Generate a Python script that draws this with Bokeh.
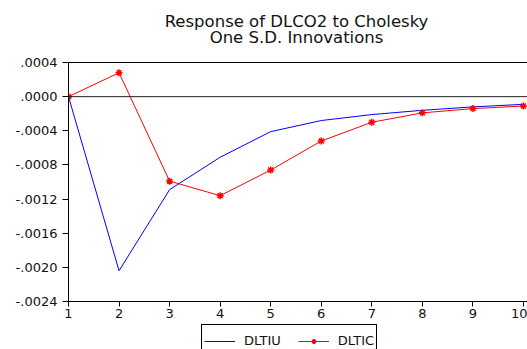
from bokeh.plotting import figure
from bokeh.layouts import column
from bokeh.models import (Range1d, FixedTicker, LinearAxis, Span, Legend,
                          LegendItem, ColumnDataSource)
from bokeh.core.properties import value
from bokeh.embed import file_html
from bokeh.resources import INLINE

periods = [1, 2, 3, 4, 5, 6, 7, 8, 9, 10]
dltiu = [0.0, -0.00204, -0.00109, -0.00071, -0.00041, -0.00028, -0.00021, -0.00016, -0.00012, -0.00009]
dltic = [0.0, 0.00028, -0.00099, -0.00116, -0.00086, -0.00052, -0.00030, -0.00019, -0.00014, -0.00011]
y_ticks = [0.0004, 0.0, -0.0004, -0.0008, -0.0012, -0.0016, -0.0020, -0.0024]
y_labels = [".0004", ".0000", "-.0004", "-.0008", "-.0012", "-.0016", "-.0020", "-.0024"]
title_lines = ["Response of DLCO2 to Cholesky", "One S.D. Innovations"]
series_names = ["DLTIU", "DLTIC"]

FONT = "DejaVu Sans"
W = 527
LEFT = 68

# ---------------- title strip ----------------
tf = figure(width=W, height=50, output_backend="svg", toolbar_location=None,
            x_range=Range1d(LEFT, W), y_range=Range1d(0, 50),
            min_border_left=LEFT, min_border_right=0, min_border_top=0,
            min_border_bottom=0, x_axis_location=None, y_axis_location=None)
tf.outline_line_color = None
tf.grid.visible = False
tf.text(x=[296, 296], y=[29.5, 13.3], text=title_lines,
        text_font=value(FONT), text_font_size="16.5px", text_color="#111111",
        text_align="center", text_baseline="middle")

# ---------------- main chart ----------------
p = figure(width=W, height=274, output_backend="svg", toolbar_location=None,
           x_range=Range1d(1, 10.08), y_range=Range1d(-0.0024, 0.0004),
           min_border_left=LEFT, min_border_right=0, min_border_top=12,
           min_border_bottom=23, x_axis_location=None, y_axis_location=None)
p.outline_line_color = None
p.grid.visible = False

xaxis = LinearAxis(ticker=FixedTicker(ticks=periods))
xaxis.major_label_text_font = FONT
xaxis.major_label_text_font_size = "13px"
xaxis.major_label_text_color = "#111111"
xaxis.major_tick_out = 5
xaxis.major_tick_in = 0
xaxis.minor_tick_out = 0
xaxis.minor_tick_in = 0
xaxis.major_label_standoff = 2
xaxis.axis_line_color = "black"
xaxis.major_tick_line_color = "black"
p.add_layout(xaxis, "below")

yaxis = LinearAxis(ticker=FixedTicker(ticks=y_ticks),
                   major_label_overrides={t: l for t, l in zip(y_ticks, y_labels)})
yaxis.major_label_text_font = FONT
yaxis.major_label_text_font_size = "13px"
yaxis.major_label_text_color = "#111111"
yaxis.major_tick_out = 6
yaxis.major_tick_in = 0
yaxis.minor_tick_out = 0
yaxis.minor_tick_in = 0
yaxis.major_label_standoff = 5
yaxis.axis_line_color = "black"
yaxis.major_tick_line_color = "black"
p.add_layout(yaxis, "left")

topaxis = LinearAxis(ticker=FixedTicker(ticks=[]))
topaxis.major_label_text_font_size = "0px"
topaxis.major_tick_out = 0
topaxis.major_tick_in = 0
topaxis.minor_tick_out = 0
topaxis.minor_tick_in = 0
topaxis.major_label_standoff = 0
topaxis.axis_line_color = "black"
p.add_layout(topaxis, "above")

p.add_layout(Span(location=0, dimension="width", line_color="#222222", line_width=1))

src = ColumnDataSource(dict(x=periods, u=dltiu, c=dltic))
p.line("x", "u", source=src, line_color="#0000FF", line_width=1)
p.line("x", "c", source=src, line_color="#FF0000", line_width=1)
p.scatter("x", "c", source=src, marker="asterisk", size=7,
          line_color="#FF0000", line_width=1.5)

# ---------------- legend strip ----------------
lf = figure(width=W, height=25, output_backend="svg", toolbar_location=None,
            x_range=Range1d(100, 101), y_range=Range1d(100, 101),
            min_border_left=LEFT, min_border_right=0, min_border_top=0,
            min_border_bottom=0, x_axis_location=None, y_axis_location=None)
lf.outline_line_color = None
lf.grid.visible = False
l_u = lf.line("x", "u", source=src, line_color="#0000FF", line_width=1)
l_c = lf.line("x", "c", source=src, line_color="#FF0000", line_width=1)
l_cm = lf.scatter("x", "c", source=src, marker="asterisk", size=7,
                  line_color="#FF0000", line_width=1.5)
legend = Legend(items=[LegendItem(label=series_names[0], renderers=[l_u]),
                       LegendItem(label=series_names[1], renderers=[l_c, l_cm])],
                location=(133, -8), orientation="horizontal",
                label_text_font=FONT, label_text_font_size="13px",
                label_text_color="#111111",
                glyph_width=31, glyph_height=12, label_height=12,
                label_standoff=9, spacing=17, padding=(2, 8), margin=0,
                border_line_color="black", border_line_width=1,
                border_line_alpha=1,
                background_fill_color="white", background_fill_alpha=1)
lf.add_layout(legend, "center")

layout = column(tf, p, lf, spacing=0)
open("out.html", "w").write(file_html(layout, INLINE))
